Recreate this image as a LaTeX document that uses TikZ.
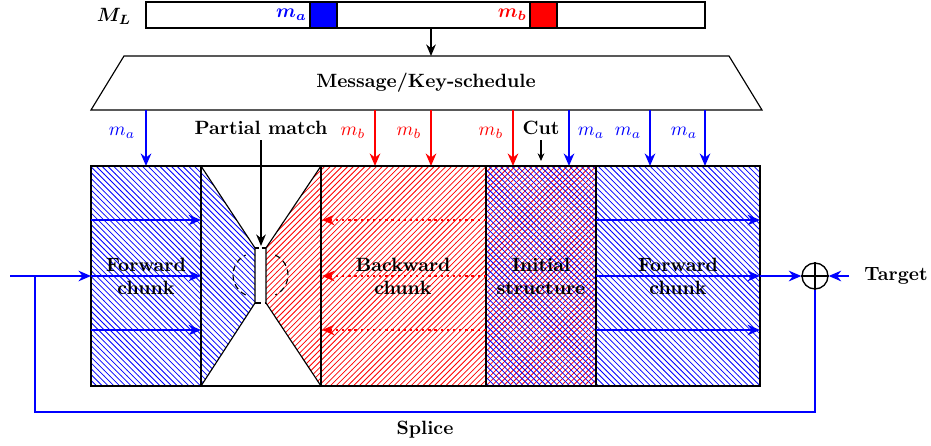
\documentclass[tikz,border=0pt]{standalone}
\usepackage{bm}
\usetikzlibrary{patterns,arrows.meta}
\begin{document}
\begin{tikzpicture}[x=0.52pt,y=-0.52pt,
  blk/.style={draw=black, line width=0.6pt},
  tipS/.style={-{Stealth[length=6.5pt,width=5.5pt]}},
  barr/.style={blue, line width=1.3pt, tipS},
  rdot/.style={red, line width=1.2pt, dotted, tipS},
  karr/.style={black, line width=0.9pt, -{Stealth[length=6pt,width=5pt]}},
  lbl/.style={font=\bfseries, align=center},
  bpat/.style={pattern=north west lines, pattern color=blue},
  rpat/.style={pattern=north east lines, pattern color=red},
]
\useasboundingbox (0,0) rectangle (931,445);

% M_L bar
\draw[blk] (146,2) rectangle (705,28);
\fill[blue] (310,2) rectangle (337,28);
\draw[blk] (310,2) rectangle (337,28);
\fill[red] (530,2) rectangle (557,28);
\draw[blk] (530,2) rectangle (557,28);
\node[text=blue, anchor=east, inner sep=1pt] (mA) at (309,15) {$\bm{m_a}$};
\node[text=red, anchor=east, inner sep=1pt] (mB) at (529,15) {$\bm{m_b}$};
\node (ML) at (114,16) {$\bm{M_L}$};

% key schedule
\coordinate (mlb) at (431,28);
\coordinate (kst) at (431,56);
\draw[karr] (mlb) -- (kst);
\draw[blk] (124,56) -- (729,56) -- (762,110) -- (91,110) -- cycle;
\node[lbl] (ks) at (426,83) {Message/Key-schedule};

% top arrows
\foreach \x/\c/\n in {146/blue/a1,375/red/b1,431/red/b2,513/red/b3,569/blue/a2,650/blue/a3,705/blue/a4}{
  \coordinate (s\n) at (\x,110);
  \coordinate (e\n) at (\x,166);
  \draw[draw=\c, fill=\c, line width=1.3pt, tipS] (s\n) -- (e\n);
}
\node[text=blue] (la1) at (122,133) {$m_a$};
\node[text=red]  (lb1) at (353,133) {$m_b$};
\node[text=red]  (lb2) at (409,133) {$m_b$};
\node[text=red]  (lb3) at (491,133) {$m_b$};
\node[text=blue] (la2) at (591,133) {$m_a$};
\node[text=blue] (la3) at (628,133) {$m_a$};
\node[text=blue] (la4) at (684,133) {$m_a$};

% fills
\fill[bpat] (91,166) rectangle (201,386);
\fill[bpat] (201,166) -- (255,248) -- (255,303) -- (201,386) -- cycle;
\fill[rpat] (321,166) -- (266,248) -- (266,303) -- (321,386) -- cycle;
\fill[rpat] (321,166) rectangle (486,386);
\fill[pattern=north east lines, pattern color=red] (486,166) rectangle (596,386);
\fill[pattern=north west lines, pattern color=blue] (486,166) rectangle (596,386);
\fill[bpat] (596,166) rectangle (760,386);

% outlines
\draw[blk] (91,166) rectangle (760,386);
\foreach \x in {201,321,486,596}{\draw[blk] (\x,166) -- (\x,386);}
\draw[blk] (201,166) -- (255,248) -- (255,303) -- (201,386);
\draw[blk] (321,166) -- (266,248) -- (266,303) -- (321,386);
\draw[line width=0.6pt, dash pattern=on 2pt off 1.5pt] (255,248) -- (266,248);
\draw[line width=0.6pt, dash pattern=on 3pt off 2pt] (255,303) -- (266,303);
\draw[line width=0.6pt, dash pattern=on 3pt off 2pt] (255,275) ++(115:22) arc[start angle=115, end angle=245, radius=22];
\draw[line width=0.6pt, dash pattern=on 3pt off 2pt] (266,275) ++(-65:22) arc[start angle=-65, end angle=65, radius=22];

% partial match, cut
\node[lbl] (pm) at (261,128) {Partial match};
\coordinate (pms) at (261,140);
\coordinate (pme) at (261,246);
\draw[karr] (pms) -- (pme);
\node[lbl] (cut) at (541,128) {Cut};
\coordinate (cs) at (541,140);
\coordinate (ce) at (541,161);
\draw[black, line width=0.7pt, -{Stealth[length=4pt,width=3.5pt]}] (cs) -- (ce);

% horizontal arrows
\coordinate (in) at (10,276);
\coordinate (spl) at (35,276);
\foreach \y in {220,276,330}{
  \draw[barr] (91,\y) -- (201,\y);
  \draw[rdot] (486,\y) -- (322,\y);
  \draw[barr] (596,\y) -- (760,\y);
}
\draw[barr] (in) -- (91,276);

% labels
\node[lbl] (fw1) at (146,276) {Forward\\chunk};
\node[lbl] (bw) at (403,276) {Backward\\chunk};
\node[lbl] (is) at (541,276) {Initial\\structure};
\node[lbl] (fw2) at (678,276) {Forward\\chunk};

% xor
\node[draw, circle, line width=0.7pt, minimum size=13.5pt, inner sep=0pt] (xor) at (815,276) {};
\draw[line width=0.7pt] (xor.north) -- (xor.south) (xor.west) -- (xor.east);
\coordinate (fo) at (760,276);
\draw[barr] (fo) -- (xor.west);
\coordinate (tg) at (849,276);
\draw[barr] (tg) -- (xor.east);
\node[lbl, anchor=east, inner sep=0pt] (target) at (928,276) {Target};

% splice
\draw[blue, line width=1.3pt] (xor.south) |- (35,412) -- (spl);
\node[lbl] (splice) at (425,430) {Splice};
\end{tikzpicture}
\end{document}
